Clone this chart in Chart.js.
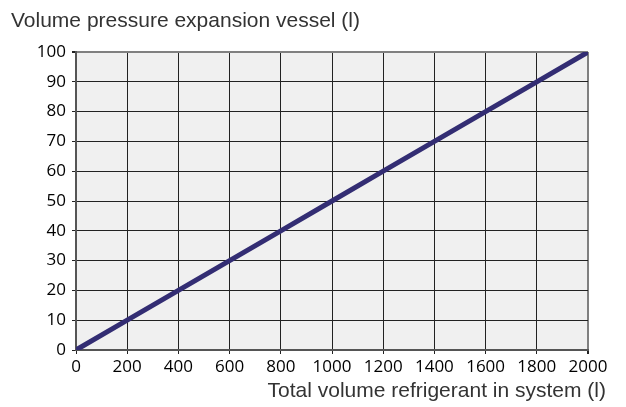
<!DOCTYPE html>
<html><head><meta charset="utf-8">
<script src="https://cdn.jsdelivr.net/npm/chart.js@4/dist/chart.umd.min.js"></script>
<style>
html,body{margin:0;padding:0;background:#fff;}
#wrap{position:relative;width:626px;height:407px;}
canvas{position:absolute;left:0;top:0;}
.t{position:absolute;font-family:"Liberation Sans",Arial,sans-serif;font-size:21px;color:#333;white-space:nowrap;line-height:1;}
#pre{position:absolute;left:-1000px;font-family:"Open Sans";font-size:17px;}
</style></head><body>
<div id="wrap">
<canvas id="c" width="626" height="407"></canvas>
<div class="t" id="yt" style="left:11px;top:9px;">Volume pressure expansion vessel (l)</div>
<div class="t" id="xt" style="right:20px;top:379px;">Total volume refrigerant in system (l)</div>
</div>
<span id="pre">0123456789</span>
<script>
const totalVolume = [0, 200, 400, 600, 800, 1000, 1200, 1400, 1600, 1800, 2000];
const vesselVolume = [0, 10, 20, 30, 40, 50, 60, 70, 80, 90, 100];
const xRange = [0, 2000];
const yRange = [0, 100];

const bgPlugin = {
  id: 'bg',
  beforeDraw(chart) {
    const {ctx, chartArea: a} = chart;
    ctx.save();
    ctx.fillStyle = '#f0f0f0';
    ctx.fillRect(a.left, a.top, a.right - a.left, a.bottom - a.top);
    ctx.restore();
  }
};

function draw() {
  new Chart(document.getElementById('c'), {
    type: 'line',
    data: {
      datasets: [{
        data: totalVolume.map((x, i) => ({x, y: vesselVolume[i]})),
        borderColor: '#332d73',
        borderWidth: 5,
        pointRadius: 0,
        tension: 0,
        borderCapStyle: 'butt'
      }]
    },
    options: {
      responsive: false,
      animation: false,
      devicePixelRatio: 1,
      layout: {padding: {left: 0, top: 52, right: 38, bottom: 0}},
      plugins: {legend: {display: false}, tooltip: {enabled: false}, title: {display: false}},
      scales: {
        x: {
          type: 'linear', min: xRange[0], max: xRange[1],
          afterFit(s) { s.height = 57; },
          ticks: {stepSize: 200, color: '#000', font: {family: '"Open Sans"', size: 17}, padding: 3, maxRotation: 0,
            callback: v => String(v)},
          grid: {
            color: c => c.tick && c.tick.value === xRange[1] ? '#808080' : '#222',
            lineWidth: c => c.tick && c.tick.value === xRange[1] ? 2 : 1,
            tickLength: 4, tickColor: '#222'
          },
          border: {color: '#555', width: 2}
        },
        y: {
          min: yRange[0], max: yRange[1],
          afterFit(s) { s.width = 76; },
          ticks: {stepSize: 10, color: '#000', font: {family: '"Open Sans"', size: 17}, padding: 6,
            callback: v => String(v)},
          grid: {
            color: c => c.tick && c.tick.value === yRange[1] ? '#808080' : '#222',
            lineWidth: c => c.tick && c.tick.value === yRange[1] ? 2 : 1,
            tickLength: 4, tickColor: '#222'
          },
          border: {color: '#555', width: 2}
        }
      }
    },
    plugins: [bgPlugin]
  });
}
if (document.fonts && document.fonts.load) {
  document.fonts.load('17px "Open Sans"').then(draw, draw);
} else { draw(); }
</script>
</body></html>
